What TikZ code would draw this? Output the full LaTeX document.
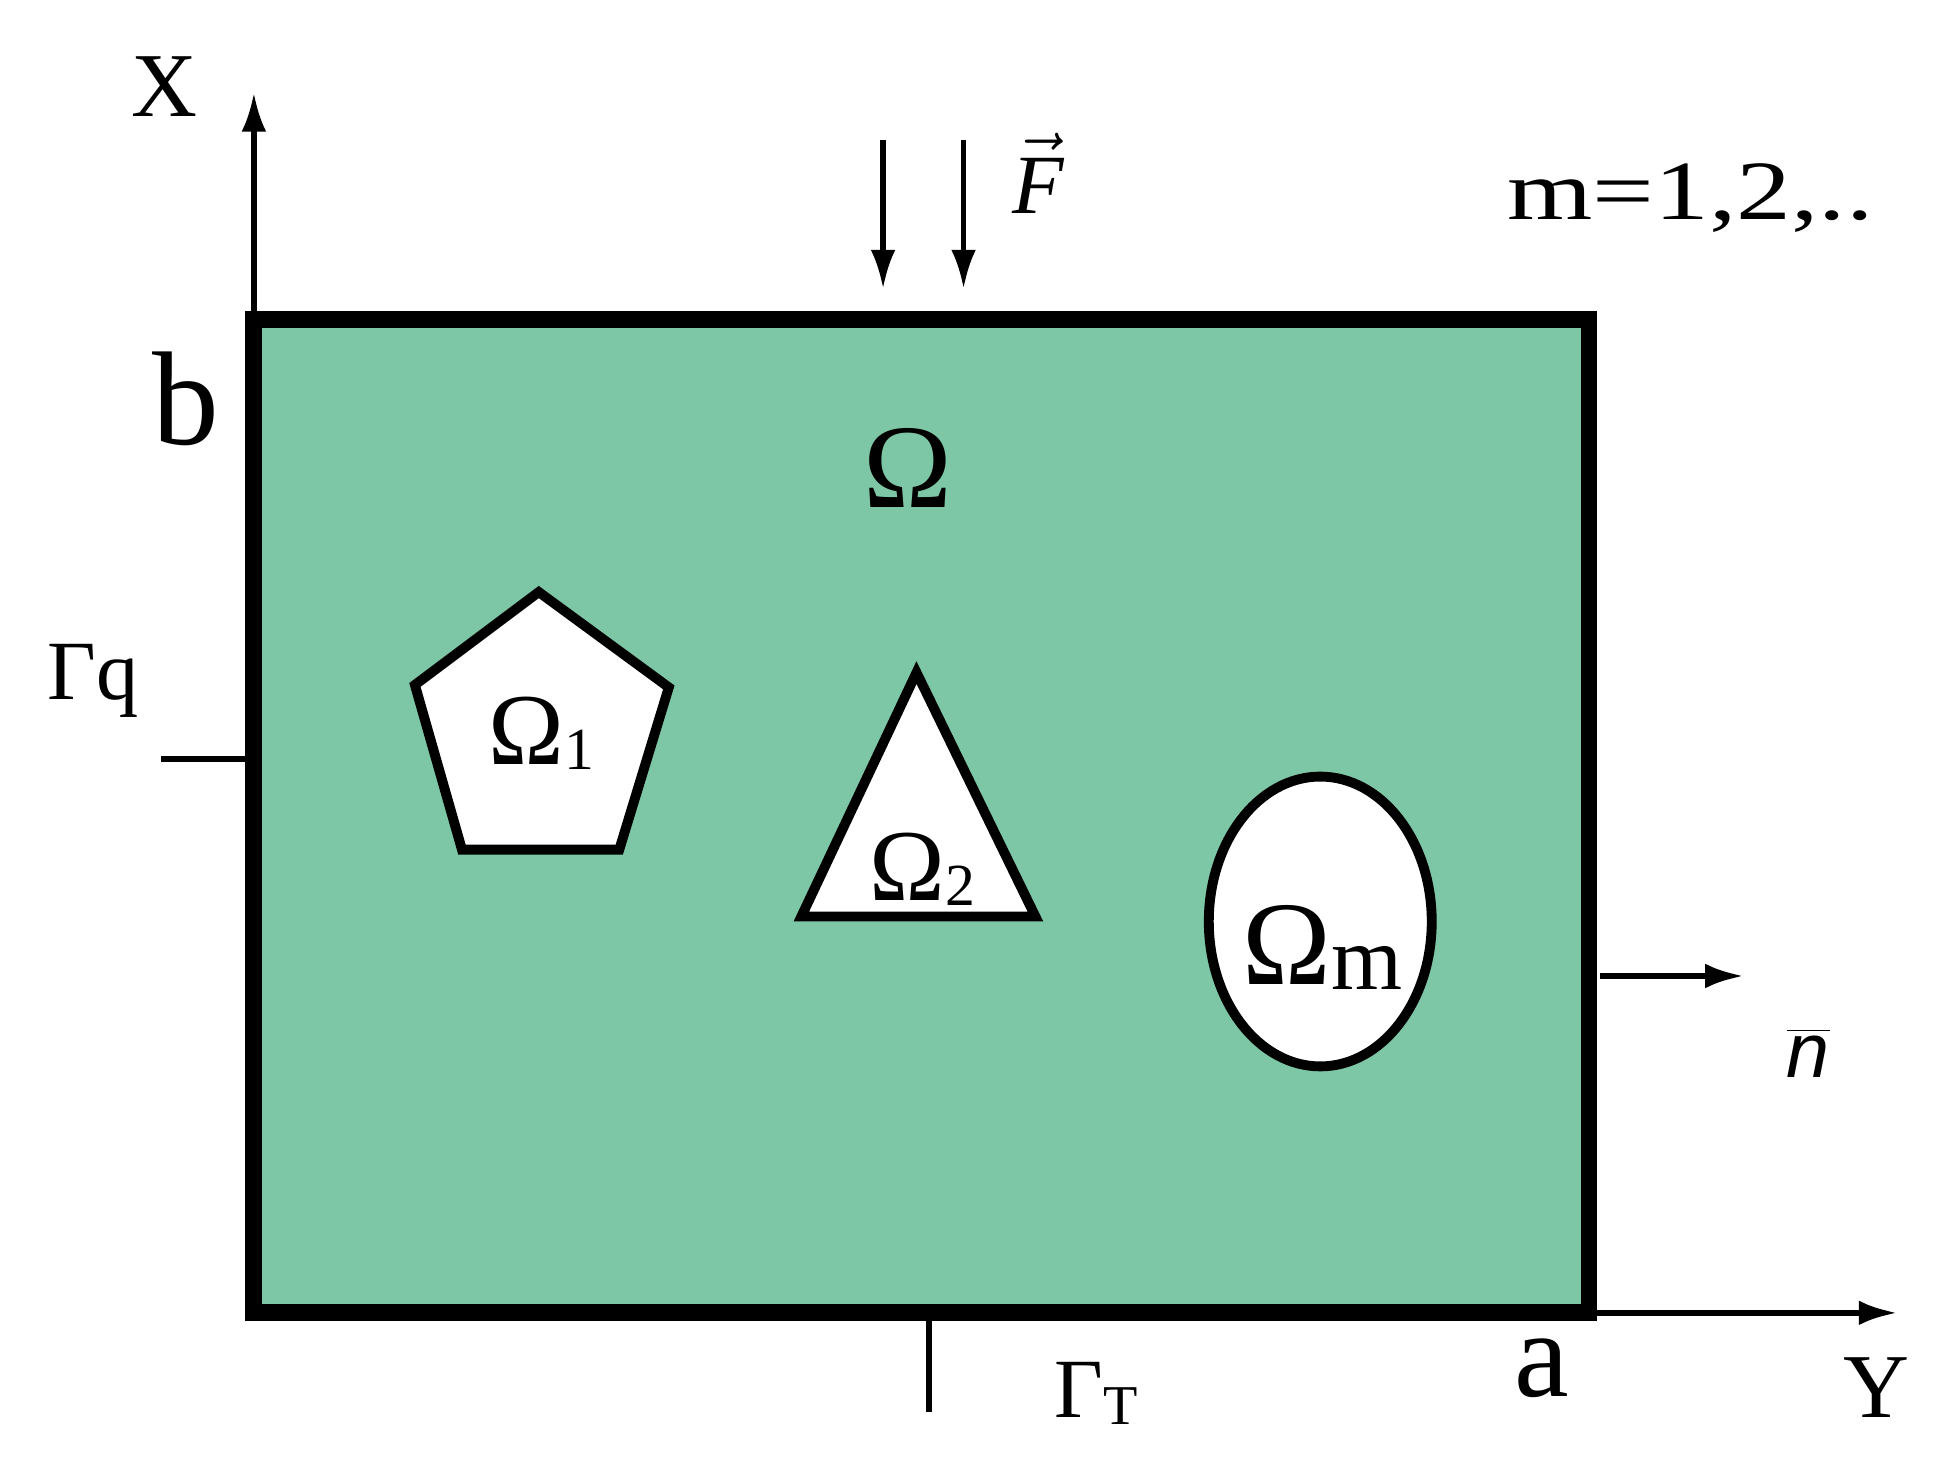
\documentclass[tikz,border=0pt]{standalone}
\usepackage{fontspec}
\setmainfont{Liberation Serif}
\newfontfamily\nsans{Liberation Sans}
\usetikzlibrary{arrows.meta}
\definecolor{domgreen}{RGB}{125,198,166}
\tikzset{
  lbl/.style={inner sep=0pt, anchor=center},
  border/.style={line width=4.8pt, line join=miter},
  hole/.style={line width=2.8pt, fill=white, line join=miter},
  axis/.style={line width=1.5pt, -{Latex[length=11pt,width=7pt]}},
  tick/.style={line width=1.6pt},
}
\newcommand{\fs}[1]{\fontsize{#1}{#1}\selectfont}
\begin{document}
\begin{tikzpicture}[x=0.012385cm, y=-0.012385cm]
\useasboundingbox (0,0) rectangle (1568,1191);
% corners
\coordinate (BL) at (205,1060);
\coordinate (TL) at (205,258);
\coordinate (TR) at (1283,258);
\coordinate (BR) at (1283,1060);
\coordinate (Xtip) at (205,75);
\coordinate (Ytip) at (1532,1060);
\coordinate (F1s) at (713,113);
\coordinate (F1e) at (713,233);
\coordinate (F2s) at (778,113);
\coordinate (F2e) at (778,233);
\coordinate (Gq) at (130,613);
\coordinate (Gqb) at (205,613);
\coordinate (GT) at (750,1060);
\coordinate (GTe) at (750,1140);
\coordinate (ns) at (1292,788);
\coordinate (ne) at (1408,788);
% domain
\fill[domgreen] (BL) rectangle (TR);
\draw[border] (BL) rectangle (TR);
% holes
\draw[hole] (435,478) -- (540,555) -- (500,686) -- (373,686) -- (335,553) -- cycle;
\draw[hole] (740,543) -- (836,740) -- (647,740) -- cycle;
\draw[hole] (1066,744) ellipse [x radius=90, y radius=117];
% axes and ticks
\draw[axis] (TL) -- (Xtip);
\draw[axis, line width=1.8pt] (BR) -- (Ytip);
\draw[axis] (F1s) -- (F1e);
\draw[axis] (F2s) -- (F2e);
\draw[tick, line width=1.8pt] (Gq) -- (Gqb);
\draw[tick] (GT) -- (GTe);
\draw[axis, line width=1.8pt] (ns) -- (ne);
% labels
\node[lbl, font=\fs{26}] (Xl) at (133,70) {X};
\node[lbl, font=\fs{38}] (bl) at (150,322) {b};
\node[lbl, font=\fs{24}] (Fl) at (838,140) {$\vec{\mbox{\itshape F}}$};
\node[lbl, font=\fs{24}, xscale=1.3] (ml) at (1365,160) {m=1,2,..};
\node[lbl, font=\fs{34}] (Om) at (733,378) {Ω};
\node[lbl, font=\fs{24}] (Gql) at (75,550) {Γq};
\node[lbl, font=\fs{29}] (O1) at (437,592) {Ω\raisebox{-0.1ex}{\fs{17}1}};
\node[lbl, font=\fs{29}] (O2) at (745,702) {Ω\raisebox{-0.1ex}{\fs{17}2}};
\node[lbl, font=\fs{34}] (Oml) at (1068,765) {Ω\raisebox{-0.1ex}{\fs{26}m}};
\node[lbl, font=\fs{22}] (nl) at (1460,850) {$\overline{\mbox{\nsans\itshape n}}$};
\node[lbl, font=\fs{26}] (Yl) at (1515,1120) {Y};
\node[lbl, font=\fs{35}] (al) at (1245,1105) {a};
\node[lbl, font=\fs{24}] (GTl) at (885,1125) {Γ\raisebox{-0.2ex}{\fs{16}T}};
\end{tikzpicture}
\end{document}
